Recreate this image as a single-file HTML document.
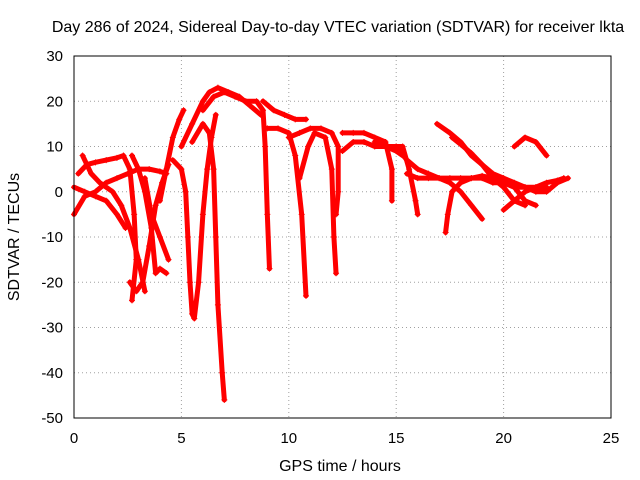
<!DOCTYPE html>
<html><head><meta charset="utf-8"><style>
body{margin:0;background:#fff}
svg{display:block;font-family:"Liberation Sans",sans-serif}
</style></head><body>
<svg id="chart" width="640" height="480" xmlns="http://www.w3.org/2000/svg">
<rect x="0" y="0" width="640" height="480" fill="#fff"/>
<text x="338" y="32" text-anchor="middle" font-size="16" fill="#000">Day 286 of 2024, Sidereal Day-to-day VTEC variation (SDTVAR) for receiver lkta</text>
<text x="340" y="471" text-anchor="middle" font-size="16">GPS time / hours</text>
<text transform="translate(19,237) rotate(-90)" text-anchor="middle" font-size="16">SDTVAR / TECUs</text>
<g id="grid"></g><g id="ticks"></g><g id="series"></g>
<rect x="74" y="56" width="537" height="362" fill="none" stroke="#000" stroke-width="1"/>
</svg>
<script>
const xTicks=[0,5,10,15,20,25];
const yTicks=[30,20,10,0,-10,-20,-30,-40,-50];
const trackA=[[0.2,4],[0.6,6],[1,6.5],[1.5,7],[2,7.5],[2.3,8],[2.6,5],[2.8,-5],[2.9,-15],[2.7,-24]];
const trackB=[[0,-5],[0.5,-1],[1,0],[1.5,2],[2,3],[2.5,4],[3,5],[3.5,5],[4,4.5],[4.3,4]];
const trackC=[[0,1],[0.5,0],[1,-1],[1.5,-2],[2,-5],[2.4,-8]];
const trackD=[[0.4,8],[0.8,4],[1.2,2],[1.8,0],[2.2,-3],[2.6,-8],[3.0,-15],[3.3,-22]];
const trackE=[[2.6,-20],[2.9,-22],[3.2,-20],[3.5,-12],[3.8,-3],[4.1,2],[4.4,6]];
const trackF=[[2.7,8],[3.0,5],[3.3,0],[3.6,-8],[3.8,-18],[4.0,-17],[4.3,-18]];
const trackG=[[3.3,3],[3.6,-5],[4.0,-10],[4.4,-15]];
const trackH=[[4.0,-2],[4.3,5],[4.6,12],[4.9,16],[5.1,18]];
const trackI=[[4.6,7],[5.0,5],[5.2,0],[5.3,-10],[5.4,-20],[5.5,-27],[5.6,-28],[5.8,-20],[6.0,-5],[6.2,5],[6.4,12],[6.6,17]];
const trackJ=[[5.0,10],[5.5,15],[6.0,20],[6.3,22],[6.7,23],[7.2,22],[7.7,21],[8.2,19],[8.7,17]];
const trackK=[[5.5,11],[6.0,15],[6.3,13],[6.5,5],[6.6,-10],[6.7,-25],[6.9,-40],[7.0,-46]];
const trackL=[[6.0,18],[6.5,21],[7.0,22],[7.5,21],[8.0,20],[8.5,20],[8.8,18],[8.9,10],[9.0,-5],[9.1,-17]];
const trackM=[[8.8,20],[9.3,18],[9.8,17],[10.3,16],[10.8,16]];
const trackN=[[9.0,14],[9.5,14],[10.0,13],[10.3,8],[10.6,-5],[10.8,-23]];
const trackO=[[10.0,12],[10.5,13],[11.0,14],[11.5,14],[12.0,13],[12.3,10],[12.3,0],[12.2,-5]];
const trackP=[[10.5,3],[10.9,10],[11.2,13],[11.7,12],[12.0,5],[12.1,-10],[12.2,-18]];
const trackQ=[[12.5,9],[13,11],[13.5,11],[14,10],[14.5,10],[15,9],[15.3,8]];
const trackR=[[12.5,13],[13,13],[13.5,13],[14,12],[14.5,11],[14.8,5],[14.8,-2]];
const trackS=[[14,11],[14.5,10],[15,10],[15.3,10],[15.6,5],[15.9,-2],[16.0,-5]];
const trackT=[[15,10],[15.5,7],[16,5],[16.5,4],[17,3],[17.5,3],[18,3],[18.5,3],[19,3],[19.5,2],[20,2],[20.5,1],[21,1],[21.5,1],[22,1]];
const trackU=[[15.5,4],[16,3],[16.5,3],[17,3],[17.5,2],[18,0],[18.5,-3],[19,-6]];
const trackV=[[17.3,-9],[17.4,-5],[17.6,0],[18,2],[18.5,3],[19,3.5],[19.5,3],[20,2],[20.5,1],[21,-2],[21.5,-3]];
const trackW=[[16.9,15],[17.5,13],[18,11],[18.5,8],[19,6],[19.5,4],[20,3],[20.5,2],[21,1],[21.5,0],[22,0],[22.5,2],[23,3]];
const trackX=[[17.6,12],[18,10.5],[18.5,8.5],[19,6],[19.5,3],[20,1],[20.5,-2],[21,-3]];
const trackY=[[20.5,10],[21,12],[21.5,11],[22,8]];
const trackZ=[[20,-4],[20.5,-2],[21,0],[21.5,1],[22,2],[22.5,2.5],[22.8,3]];
const tracks=[trackA,trackB,trackC,trackD,trackE,trackF,trackG,trackH,trackI,trackJ,trackK,trackL,trackM,trackN,trackO,trackP,trackQ,trackR,trackS,trackT,trackU,trackV,trackW,trackX,trackY,trackZ];
const NS="http://www.w3.org/2000/svg";
const X0=74,X1=611,Y0=418,Y1=56;
function sx(t){return X0+(t-0)/(25-0)*(X1-X0);}
function sy(v){return Y0-(v-(-50))/(30-(-50))*(Y0-Y1);}
const grid=document.getElementById('grid'),ticks=document.getElementById('ticks'),ser=document.getElementById('series');
xTicks.forEach(t=>{
 const x=sx(t);
 if(t>0&&t<25){const l=document.createElementNS(NS,'line');
 l.setAttribute('x1',x);l.setAttribute('x2',x);l.setAttribute('y1',Y1);l.setAttribute('y2',Y0);
 l.setAttribute('stroke','#a0a0a0');l.setAttribute('stroke-dasharray','1,3');
 
 
 grid.appendChild(l);}
 const tx=document.createElementNS(NS,'text');
 tx.setAttribute('x',x);tx.setAttribute('y',443);tx.setAttribute('text-anchor','middle');tx.setAttribute('font-size','15');
 tx.textContent=t;
 
 
 ticks.appendChild(tx);
});
yTicks.forEach(v=>{
 const y=sy(v);
 if(v>-50&&v<30){const l=document.createElementNS(NS,'line');
 l.setAttribute('x1',X0);l.setAttribute('x2',X1);l.setAttribute('y1',y);l.setAttribute('y2',y);
 l.setAttribute('stroke','#a0a0a0');l.setAttribute('stroke-dasharray','1,3');
 
 
 grid.appendChild(l);}
 const tx=document.createElementNS(NS,'text');
 tx.setAttribute('x',63);tx.setAttribute('y',y+5);tx.setAttribute('text-anchor','end');tx.setAttribute('font-size','15');
 tx.textContent=v;
 
 
 ticks.appendChild(tx);
});
tracks.forEach(tr=>{
 const p=document.createElementNS(NS,'polyline');
 p.setAttribute('points',tr.map(d=>sx(d[0])+','+sy(d[1])).join(' '));
 p.setAttribute('fill','none');p.setAttribute('stroke','#ff0000');p.setAttribute('stroke-width','5');
 p.setAttribute('stroke-linejoin','round');p.setAttribute('stroke-linecap','round');
 
 
 ser.appendChild(p);
 tr.forEach(d=>{
  const m=document.createElementNS(NS,'path');
  const x=sx(d[0]),y=sy(d[1]);
  m.setAttribute('d',`M${x-3},${y}H${x+3}M${x},${y-3}V${y+3}`);
  m.setAttribute('stroke','#ff0000');m.setAttribute('stroke-width','1');
  
  
  ser.appendChild(m);
 });
});
</script>
</body></html>
